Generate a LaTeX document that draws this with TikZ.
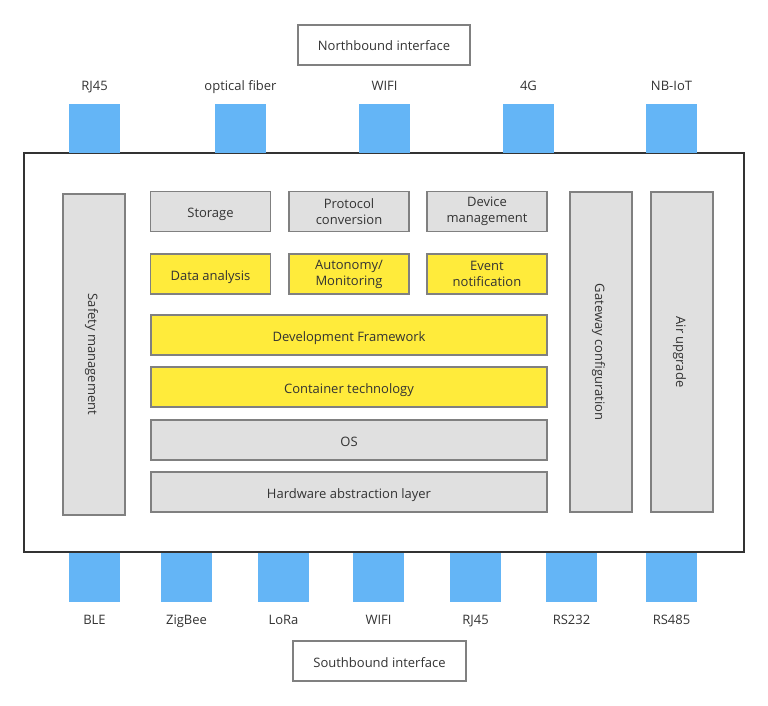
\documentclass[tikz,border=0pt]{standalone}
\usepackage{fontspec}
\setmainfont{Open Sans}
\usepackage{xcolor}
\usepackage{tikz}

\definecolor{boxgray}{HTML}{E0E0E0}
\definecolor{boxyellow}{HTML}{FFEB3B}
\definecolor{portblue}{HTML}{64B5F6}
\definecolor{linegray}{HTML}{808080}
\definecolor{framegray}{HTML}{333333}
\definecolor{textgray}{HTML}{333333}

\tikzset{
  base/.style={draw=linegray, line width=1.3pt, inner sep=0pt, align=center,
    text=textgray, font=\fontsize{13}{16}\selectfont, text height=13pt, text depth=1pt},
  twoline/.style={text height=, text depth=},
  graybox/.style={base, fill=boxgray, minimum width=120pt, minimum height=40pt},
  yellowbox/.style={base, fill=boxyellow, minimum width=120pt, minimum height=40pt},
  widebox/.style={minimum width=396pt},
  sidebox/.style={base, fill=boxgray, rotate=-90, minimum height=62pt},
  portlabel/.style={text=textgray, inner sep=0pt, text height=9pt, text depth=3pt,
    font=\fontsize{13}{16}\selectfont},
  toplabel/.style={portlabel, yshift=10pt},
  botlabel/.style={portlabel, yshift=-14pt},
  port/.style={fill=portblue, minimum width=51pt, minimum height=49pt, inner sep=0pt},
  iface/.style={base, fill=white, minimum width=172pt, minimum height=40pt}
}

\begin{document}
\begin{tikzpicture}[x=1pt,y=-1pt]
  \useasboundingbox (0,0) rectangle (768,706);

  % southbound ports, under the frame
  \draw (94.5,577)  node (s1) [port, label={[botlabel]below:BLE}] {};
  \draw (186.5,577) node (s2) [port, label={[botlabel]below:ZigBee}] {};
  \draw (283.5,577) node (s3) [port, label={[botlabel]below:LoRa}] {};
  \draw (378.5,577) node (s4) [port, label={[botlabel]below:WIFI}] {};
  \draw (475.5,577) node (s5) [port, label={[botlabel]below:RJ45}] {};
  \draw (571.5,577) node (s6) [port, label={[botlabel]below:RS232}] {};
  \draw (671.5,577) node (s7) [port, label={[botlabel]below:RS485}] {};

  % gateway frame
  \draw (384,352.5) node (frame) [draw=framegray, line width=1.6pt, fill=white,
    minimum width=720pt, minimum height=399pt] {};

  % northbound ports, over the frame
  \draw (94.5,128.5)  node (n1) [port, label={[toplabel]above:RJ45}] {};
  \draw (240.5,128.5) node (n2) [port, label={[toplabel]above:optical fiber}] {};
  \draw (384.5,128.5) node (n3) [port, label={[toplabel]above:WIFI}] {};
  \draw (528.5,128.5) node (n4) [port, label={[toplabel]above:4G}] {};
  \draw (671.5,128.5) node (n5) [port, label={[toplabel]above:NB-IoT}] {};

  \draw (384,45)    node (north) [iface] {Northbound interface};
  \draw (379.5,661) node (south) [iface, minimum width=173pt] {Southbound interface};

  % side columns
  \draw (94,354.5) node (safety) [sidebox, minimum width=321pt] {Safety management};
  \draw (601,352)  node (gwconf) [sidebox, minimum width=320pt] {Gateway configuration};
  \draw (682,352)  node (air)    [sidebox, minimum width=320pt] {Air upgrade};

  % service rows
  \draw (210.5,211.5) node (storage) [graybox] {Storage};
  \draw (349,211.5)   node (proto)   [graybox, twoline] {Protocol\\conversion};
  \draw (487,211.5)   node (device)  [graybox, twoline] {Device\\management};

  \draw (210.5,274) node (analysis) [yellowbox] {Data analysis};
  \draw (349,274)   node (autonomy) [yellowbox, twoline] {Autonomy/\\Monitoring};
  \draw (487,274)   node (event)    [yellowbox, twoline] {Event\\notification};

  % layers
  \draw (349,335) node (devfw)     [yellowbox, widebox] {Development Framework};
  \draw (349,387) node (container) [yellowbox, widebox] {Container technology};
  \draw (349,440) node (os)        [graybox, widebox] {OS};
  \draw (349,492) node (hal)       [graybox, widebox] {Hardware abstraction layer};
\end{tikzpicture}
\end{document}
